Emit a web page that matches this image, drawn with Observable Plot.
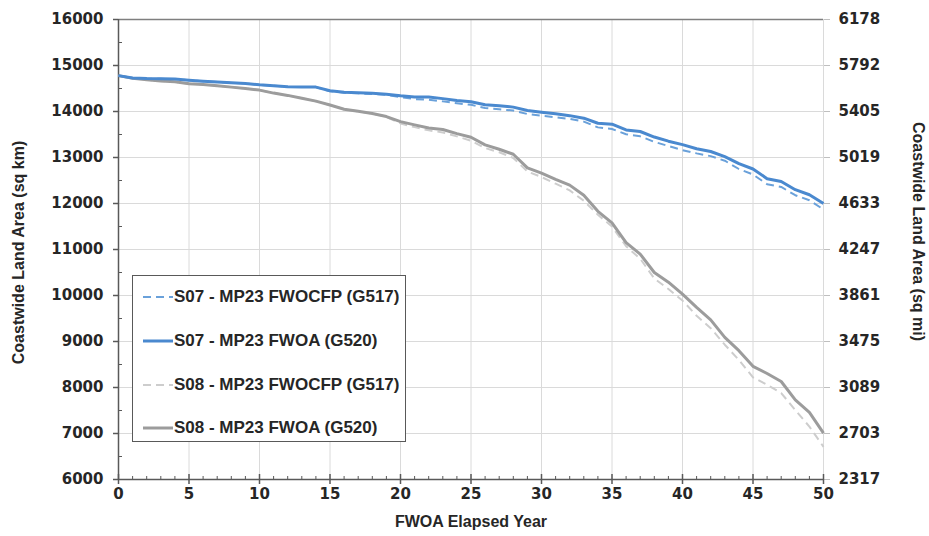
<!DOCTYPE html>
<html><head><meta charset="utf-8">
<script src="https://cdn.jsdelivr.net/npm/d3@7"></script>
<script src="https://cdn.jsdelivr.net/npm/@observablehq/plot@0.6"></script>
<style>
body{margin:0;background:#fff;}
#wrap{position:relative;width:929px;height:536px;}
#legend{position:absolute;left:132px;top:275px;width:272px;height:165px;border:1.5px solid #595959;background:#fff;font:bold 17px "Liberation Sans",Arial,sans-serif;color:#262626;}
.item{position:absolute;left:10px;height:22px;display:flex;align-items:center;white-space:nowrap;}
.item svg{display:block;margin-right:1px;}
</style></head><body><div id="wrap"><div id="legend"></div></div>
<script>
const years = [0,1,2,3,4,5,6,7,8,9,10,11,12,13,14,15,16,17,18,19,20,21,22,23,24,25,26,27,28,29,30,31,32,33,34,35,36,37,38,39,40,41,42,43,44,45,46,47,48,49,50];

const s07Fwocfp = [14780,14730,14715,14710,14705,14680,14660,14640,14625,14610,14580,14560,14540,14530,14530,14440,14410,14395,14380,14360,14315,14270,14255,14220,14180,14145,14075,14050,14020,13945,13910,13875,13840,13780,13655,13620,13505,13460,13340,13250,13160,13090,13030,12930,12750,12630,12420,12360,12180,12070,11870];
const s07Fwoa = [14780,14730,14715,14710,14705,14680,14660,14640,14625,14610,14580,14560,14540,14530,14530,14450,14420,14410,14395,14375,14340,14315,14315,14280,14240,14210,14145,14125,14095,14020,13985,13950,13910,13855,13745,13725,13600,13565,13445,13355,13280,13190,13130,13020,12865,12750,12540,12480,12300,12190,12000];
const s08Fwocfp = [14780,14720,14690,14665,14645,14605,14585,14560,14530,14500,14465,14400,14350,14290,14225,14140,14050,14005,13955,13880,13740,13660,13590,13545,13460,13365,13205,13115,12990,12695,12575,12430,12285,12060,11755,11500,11070,10800,10370,10140,9890,9560,9290,8930,8600,8220,8060,7880,7510,7150,6710];
const s08Fwoa = [14780,14720,14690,14665,14645,14605,14585,14560,14530,14500,14465,14400,14350,14290,14225,14140,14050,14005,13955,13890,13780,13710,13640,13610,13520,13440,13275,13180,13070,12775,12660,12525,12400,12180,11830,11580,11150,10900,10500,10290,10030,9740,9470,9090,8800,8460,8305,8130,7730,7460,7010];

const seriesNames = ["S07 - MP23 FWOCFP (G517)","S07 - MP23 FWOA (G520)","S08 - MP23 FWOCFP (G517)","S08 - MP23 FWOA (G520)"];
const seriesValues = [s07Fwocfp, s07Fwoa, s08Fwocfp, s08Fwoa];
const seriesColors = ["#6aa1da","#4a89cf","#cdcdcd","#9c9c9c"];
const seriesDash = ["8,5", null, "8,5", null];
const seriesWidth = [2, 3, 2, 3];
const drawOrder = [2, 3, 0, 1];

const xTicks = [0,5,10,15,20,25,30,35,40,45,50];
const xMinor = [1,2,3,4,6,7,8,9,11,12,13,14,16,17,18,19,21,22,23,24,26,27,28,29,31,32,33,34,36,37,38,39,41,42,43,44,46,47,48,49];
const yTicks = [6000,7000,8000,9000,10000,11000,12000,13000,14000,15000,16000];
const yMinor = [6500,7500,8500,9500,10500,11500,12500,13500,14500,15500];
const rightTickLabels = ["2317","2703","3089","3475","3861","4247","4633","5019","5405","5792","6178"];
const leftTitle = "Coastwide Land Area (sq km)";
const rightTitle = "Coastwide Land Area (sq mi)";
const xTitle = "FWOA Elapsed Year";

const rightLabel = new Map(yTicks.map((v, i) => [v, rightTickLabels[i]]));
const rows = [];
seriesNames.forEach((name, s) => years.forEach((yr, i) => rows.push({series: name, year: yr, value: seriesValues[s][i]})));

const numFont = {fontFamily: "DejaVu Sans", fontSize: 15, fontWeight: "bold", fill: "#262626"};
const titleFont = {fontFamily: "Liberation Sans", fontSize: 16, fontWeight: "bold", fill: "#262626", textAnchor: "middle", lineAnchor: "middle"};

const lineMarks = drawOrder.map(s => Plot.line(rows.filter(r => r.series === seriesNames[s]), {
  x: "year", y: "value", stroke: seriesColors[s], strokeWidth: seriesWidth[s],
  strokeDasharray: seriesDash[s] || undefined, strokeLinejoin: "round", strokeLinecap: "butt"
}));

const chart = Plot.plot({
  width: 929, height: 536,
  marginLeft: 118, marginRight: 106, marginTop: 19, marginBottom: 57,
  style: {background: "white", fontFamily: "Liberation Sans", color: "#262626"},
  x: {domain: [0, 50], axis: null},
  y: {domain: [6000, 16000], axis: null},
  marks: [
    Plot.ruleY(yTicks, {stroke: "#dadada", strokeWidth: 1}),
    Plot.ruleX(xTicks, {stroke: "#dadada", strokeWidth: 1}),
    Plot.ruleY([16000], {stroke: "#7f7f7f", strokeWidth: 1.5}),
    Plot.axisY({ticks: yTicks, anchor: "left", tickSize: 5, tickPadding: 10, stroke: "#595959", strokeWidth: 1.5, tickFormat: d => String(d), label: null, ...numFont}),
    Plot.axisY({ticks: yMinor, anchor: "left", tickSize: -4, tickPadding: 0, stroke: "#595959", strokeWidth: 1, tickFormat: () => "", label: null}),
    Plot.axisY({ticks: yTicks, anchor: "right", tickSize: 6, tickPadding: 9, stroke: "#bfbfbf", strokeWidth: 1, tickFormat: d => rightLabel.get(d), label: null, ...numFont}),
    Plot.axisX({ticks: xTicks, anchor: "bottom", tickSize: 5, tickPadding: 4, stroke: "#595959", strokeWidth: 1.5, tickFormat: d => String(d), label: null, ...numFont}),
    Plot.axisX({ticks: xTicks, anchor: "bottom", tickSize: -5, tickPadding: 0, stroke: "#595959", strokeWidth: 1.5, tickFormat: () => "", label: null}),
    Plot.axisX({ticks: xMinor, anchor: "bottom", tickSize: -3, tickPadding: 0, stroke: "#595959", strokeWidth: 1, tickFormat: () => "", label: null}),
    Plot.ruleX([0], {stroke: "#595959", strokeWidth: 1.5}),
    Plot.ruleY([6000], {stroke: "#595959", strokeWidth: 1.5}),
    ...lineMarks,
    Plot.text([leftTitle], {text: d => d, frameAnchor: "left", dx: -100, dy: 3, rotate: -90, ...titleFont}),
    Plot.text([rightTitle], {text: d => d, frameAnchor: "right", dx: 95, dy: -18, rotate: 90, ...titleFont}),
    Plot.text([xTitle], {text: d => d, frameAnchor: "bottom", dy: 42, ...titleFont})
  ]
});
const wrap = document.getElementById("wrap");
wrap.insertBefore(chart, wrap.firstChild);

const legend = document.getElementById("legend");
const legendTops = [10, 54, 98, 141];
seriesNames.forEach((name, s) => {
  const item = document.createElement("div");
  item.className = "item";
  item.style.top = legendTops[s] + "px";
  const dash = seriesDash[s] ? ` stroke-dasharray="${seriesDash[s]}"` : "";
  item.innerHTML = `<svg width="30" height="10"><line x1="0" y1="5" x2="30" y2="5" stroke="${seriesColors[s]}" stroke-width="${seriesWidth[s]}"${dash}/></svg><span>${name}</span>`;
  legend.appendChild(item);
});
</script>
</body></html>
